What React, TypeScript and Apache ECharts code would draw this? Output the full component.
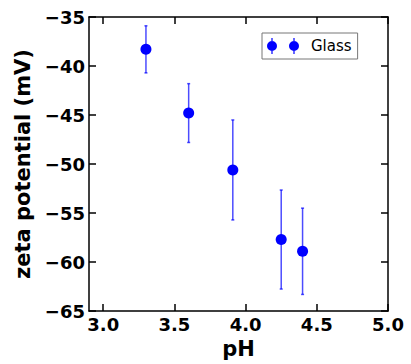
import React, { useEffect, useRef } from "react";
import * as echarts from "echarts";

const seriesName = "Glass";
const phValues = [3.3, 3.6, 3.91, 4.25, 4.4];
const zetaValues = [-38.3, -44.8, -50.6, -57.7, -58.9];
const zetaErrors = [2.4, 3.0, 5.1, 5.05, 4.4];
const xTicks = [3.0, 3.5, 4.0, 4.5, 5.0];
const yTicks = [-65, -60, -55, -50, -45, -40, -35];

const FONT = "DejaVu Sans";
const legendIcon =
  "path://M0,8a5,5 0 1,1 10,0a5,5 0 1,1 -10,0Z M4.4,0h1.2v3.5h-1.2Z M4.4,12.5h1.2v3.5h-1.2Z " +
  "M22,8a5,5 0 1,1 10,0a5,5 0 1,1 -10,0Z M26.4,0h1.2v3.5h-1.2Z M26.4,12.5h1.2v3.5h-1.2Z";

const fmtY = (v: number) => (v < 0 ? "\u2212" : "") + Math.abs(v);

export default function App() {
  const ref = useRef<HTMLDivElement>(null);
  useEffect(() => {
    if (!ref.current) return;
    const chart = echarts.init(ref.current, null, { renderer: "svg" });
    const points = phValues.map((x, i) => [x, zetaValues[i]]);
    const bars = phValues.map((x, i) => [x, zetaValues[i] - zetaErrors[i], zetaValues[i] + zetaErrors[i]]);
    const axisLine = { show: true, onZero: false, lineStyle: { color: "#000", width: 1.5 } };
    const tick = { show: true, inside: true, length: 7, lineStyle: { color: "#000", width: 1.5 } };
    chart.setOption({
      animation: false,
      grid: { left: 89, top: 17, right: 23, bottom: 47 },
      legend: {
        data: [{ name: seriesName, icon: legendIcon }],
        left: 262,
        top: 33,
        itemWidth: 32,
        itemHeight: 16,
        padding: [5, 6, 5, 5],
        borderColor: "#777",
        borderWidth: 1,
        borderRadius: 0,
        textStyle: { fontFamily: FONT, fontSize: 15, color: "#000", padding: [0, 0, 0, 7] },
      },
      xAxis: [
        {
          type: "value",
          position: "bottom",
          min: 2.9,
          max: 5.0,
          name: "pH",
          nameLocation: "middle",
          nameGap: 20,
          nameTextStyle: { fontFamily: FONT, fontSize: 21, fontWeight: "bold", color: "#000" },
          axisLine,
          axisTick: { ...tick, customValues: xTicks },
          axisLabel: {
            customValues: xTicks,
            formatter: (v: number) => v.toFixed(1),
            fontFamily: FONT,
            fontSize: 18,
            fontWeight: "bold",
            color: "#000",
            margin: 4,
          },
          splitLine: { show: false },
        },
        {
          type: "value",
          position: "top",
          min: 2.9,
          max: 5.0,
          axisLine,
          axisTick: { ...tick, customValues: xTicks },
          axisLabel: { show: false },
          splitLine: { show: false },
        },
      ],
      yAxis: [
        {
          type: "value",
          position: "left",
          min: -65,
          max: -35,
          interval: 5,
          name: "zeta potential (mV)",
          nameLocation: "middle",
          nameGap: 50,
          nameTextStyle: { fontFamily: FONT, fontSize: 21, fontWeight: "bold", color: "#000" },
          axisLine,
          axisTick: tick,
          axisLabel: {
            formatter: fmtY,
            fontFamily: FONT,
            fontSize: 18,
            fontWeight: "bold",
            color: "#000",
            margin: 4,
          },
          splitLine: { show: false },
        },
        {
          type: "value",
          position: "right",
          min: -65,
          max: -35,
          interval: 5,
          axisLine,
          axisTick: tick,
          axisLabel: { show: false },
          splitLine: { show: false },
        },
      ],
      series: [
        {
          type: "custom",
          name: "errors",
          data: bars,
          z: 2,
          silent: true,
          renderItem: (params: any, api: any) => {
            const x = api.value(0);
            const lo = api.coord([x, api.value(1)]);
            const hi = api.coord([x, api.value(2)]);
            const style = { stroke: "rgba(0,0,255,0.7)", lineWidth: 1.5 };
            return {
              type: "group",
              children: [
                { type: "line", shape: { x1: hi[0], y1: hi[1], x2: lo[0], y2: lo[1] }, style },
                { type: "line", shape: { x1: hi[0] - 1.5, y1: hi[1], x2: hi[0] + 1.5, y2: hi[1] }, style },
                { type: "line", shape: { x1: lo[0] - 1.5, y1: lo[1], x2: lo[0] + 1.5, y2: lo[1] }, style },
              ],
            };
          },
        },
        {
          type: "scatter",
          name: seriesName,
          data: points,
          symbol: "circle",
          symbolSize: 11,
          z: 3,
          itemStyle: { color: "#0000ff", opacity: 1 },
        },
      ],
    });
    return () => chart.dispose();
  }, []);
  return (
    <div
      ref={ref}
      style={{ position: "fixed", left: 0, top: 0, width: 411, height: 364, background: "#fff" }}
    />
  );
}
